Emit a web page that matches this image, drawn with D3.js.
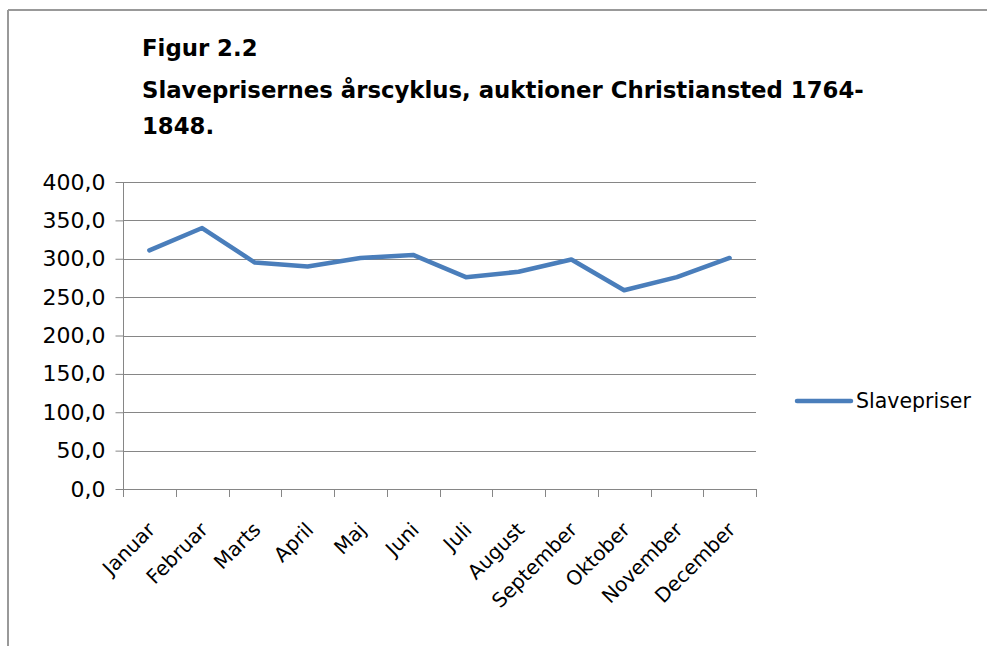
<!DOCTYPE html>
<html>
<head>
<meta charset="utf-8">
<script src="https://cdn.jsdelivr.net/npm/d3@7"></script>
<style>
  body { margin: 0; background: #fff; }
  svg { display: block; font-family: "DejaVu Sans", sans-serif; }
  .grid line { stroke: #868686; stroke-width: 1; }
  .axis path, .axis line { stroke: #868686; }
  .axis text { fill: #000; font-size: 20px; font-family: "DejaVu Sans", sans-serif; }
  .y-axis text { font-size: 22px; }
</style>
</head>
<body>
<svg id="chart" width="987" height="646"></svg>
<script>
// data
var months = ['Januar', 'Februar', 'Marts', 'April', 'Maj', 'Juni', 'Juli',
              'August', 'September', 'Oktober', 'November', 'December'];
var prices = [311, 340, 295, 290, 301, 305, 276, 283, 299, 259, 276, 301];
var yTicks = [0, 50, 100, 150, 200, 250, 300, 350, 400];
var titleLines = ['Figur 2.2', 'Slaveprisernes årscyklus, auktioner Christiansted 1764-', '1848.'];
var seriesName = 'Slavepriser';

var svg = d3.select('#chart');
var W = 987, H = 646;
var plot = { left: 123, right: 756, top: 182, bottom: 489 };
var blue = '#4a7ebb';

// frame (only top and left edges are visible in the crop)
svg.append('line').attr('x1', 8).attr('y1', 10).attr('x2', W).attr('y2', 10)
   .attr('stroke', '#999').attr('stroke-width', 2);
svg.append('line').attr('x1', 8).attr('y1', 10).attr('x2', 8).attr('y2', H)
   .attr('stroke', '#999').attr('stroke-width', 2);

// title
var title = svg.append('text').attr('font-weight', 'bold').attr('font-size', 22.8).attr('fill', '#000');
var titleY = [56, 98, 134];
title.selectAll('tspan').data(titleLines).enter().append('tspan')
   .attr('x', 142).attr('y', function(d, i) { return titleY[i]; })
   .text(function(d) { return d; });

var x = d3.scaleBand().domain(months).range([plot.left, plot.right]);
var y = d3.scaleLinear().domain([0, 400]).range([plot.bottom, plot.top]);

// gridlines
svg.append('g').attr('class', 'grid')
   .selectAll('line').data(yTicks.filter(function(d) { return d > 0; })).enter().append('line')
   .attr('x1', plot.left).attr('x2', plot.right)
   .attr('y1', function(d) { return Math.round(y(d)) + 0.5; })
   .attr('y2', function(d) { return Math.round(y(d)) + 0.5; });

// y axis
var yAxis = svg.append('g').attr('class', 'axis y-axis')
   .attr('transform', 'translate(' + (plot.left + 0.5) + ',0)')
   .call(d3.axisLeft(y).tickValues(yTicks).tickSize(8).tickPadding(10)
      .tickFormat(function(d) { return d3.format('.1f')(d).replace('.', ','); }));
yAxis.select('.domain').attr('d', 'M0,' + plot.top + 'V' + plot.bottom);

// x axis, ticks on band edges
var edges = months.map(function(m) { return x(m); }).concat([plot.right]);
var xg = svg.append('g').attr('class', 'axis');
xg.append('line').attr('x1', plot.left).attr('x2', plot.right)
   .attr('y1', plot.bottom + 0.5).attr('y2', plot.bottom + 0.5);
xg.selectAll('.tick').data(edges).enter().append('line').attr('class', 'tick')
   .attr('x1', function(d) { return Math.round(d) + 0.5; })
   .attr('x2', function(d) { return Math.round(d) + 0.5; })
   .attr('y1', plot.bottom).attr('y2', plot.bottom + 8);
xg.selectAll('text').data(months).enter().append('text')
   .attr('text-anchor', 'end')
   .attr('transform', function(d) {
      return 'translate(' + (x(d) + x.bandwidth() / 2 + 2) + ',' + (plot.bottom + 37) + ') rotate(-45)';
   })
   .attr('dy', '0.35em')
   .text(function(d) { return d; });

// series line
var line = d3.line()
   .x(function(d, i) { return x(months[i]) + x.bandwidth() / 2; })
   .y(function(d) { return y(d); });
svg.append('path').datum(prices)
   .attr('d', line)
   .attr('fill', 'none').attr('stroke', blue).attr('stroke-width', 4.5)
   .attr('stroke-linejoin', 'round').attr('stroke-linecap', 'round');

// legend
var lg = svg.append('g').attr('transform', 'translate(797,401)');
lg.append('line').attr('x1', 0).attr('x2', 54).attr('y1', 0).attr('y2', 0)
   .attr('stroke', blue).attr('stroke-width', 4.5).attr('stroke-linecap', 'round');
lg.append('text').attr('x', 59).attr('dy', '0.35em').attr('font-size', 20.5).text(seriesName);
</script>
</body>
</html>
